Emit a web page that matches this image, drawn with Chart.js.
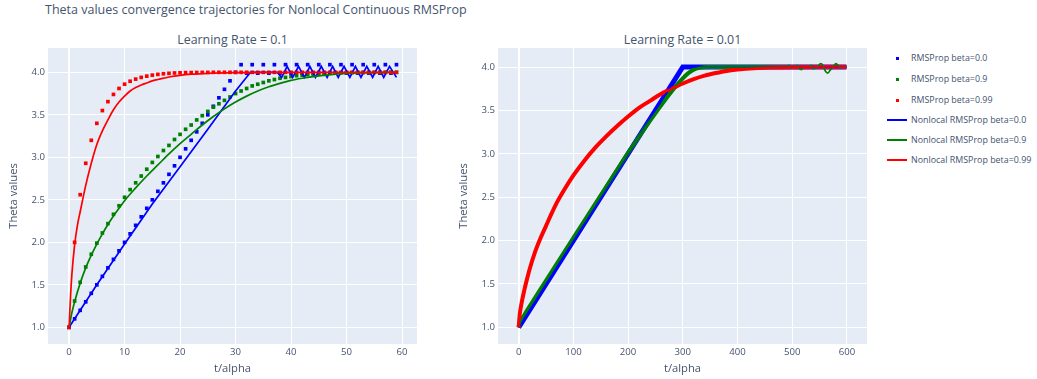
<!DOCTYPE html>
<html>
<head>
<meta charset="utf-8">
<script src="https://cdn.jsdelivr.net/npm/chart.js@4.4.0/dist/chart.umd.min.js"></script>
<style>
    body { margin: 0; background: #fff; font-family: "Open Sans", sans-serif; color: #44546f; }
    #page { position: relative; width: 1037px; height: 379px; overflow: hidden; }
    .title { position: absolute; left: 45px; top: 2px; font-size: 12.5px; line-height: 16px; white-space: nowrap; }
    .subtitle { position: absolute; top: 32px; width: 369px; text-align: center; font-size: 12.4px; line-height: 16px; }
    canvas { position: absolute; top: 0; }
    #legend { position: absolute; left: 880px; top: 0; font-size: 8.9px; }
    .item { position: absolute; left: 0; height: 14px; line-height: 14px; white-space: nowrap; }
    .sample { position: absolute; left: 7px; top: 6px; width: 20px; height: 2px; }
    .dot { position: absolute; left: 16px; top: 5.5px; width: 3px; height: 3px; }
    .label { position: absolute; left: 31px; top: 0; }
</style>
</head>
<body>
<div id="page">
    <div class="title">Theta values convergence trajectories for Nonlocal Continuous RMSProp</div>
    <div class="subtitle" style="left:48px">Learning Rate = 0.1</div>
    <div class="subtitle" style="left:498px">Learning Rate = 0.01</div>
    <canvas id="chart-lr01" width="430" height="379" style="left:0"></canvas>
    <canvas id="chart-lr001" width="430" height="379" style="left:450px"></canvas>
    <div id="legend"></div>
</div>
<script>
// ---- Learning rate 0.1 : RMSProp iterates (one per step) ----
const stepsLr01 = Array.from({ length: 60 }, (_, i) => i);

const rmsBeta0Lr01 = [
    1.0, 1.1, 1.2, 1.3, 1.4, 1.5, 1.6, 1.7, 1.8, 1.9,
    2.0, 2.1, 2.2, 2.3, 2.4, 2.5, 2.6, 2.7, 2.8, 2.9,
    3.0, 3.1, 3.2, 3.3, 3.4, 3.5, 3.6, 3.7, 3.8, 3.9,
    4.0, 4.09, 3.99, 4.09, 3.99, 4.09, 3.99, 4.09, 3.99, 4.09,
    3.99, 4.09, 3.99, 4.09, 3.99, 4.09, 3.99, 4.09, 3.99, 4.09,
    3.99, 4.09, 3.99, 4.09, 3.99, 4.09, 3.99, 4.09, 3.99, 4.09
];
const rmsBeta09Lr01 = [
    1.00, 1.31, 1.53, 1.71, 1.86, 1.99, 2.11, 2.22, 2.33, 2.43,
    2.53, 2.62, 2.70, 2.78, 2.86, 2.94, 3.01, 3.08, 3.14, 3.21,
    3.27, 3.33, 3.38, 3.44, 3.49, 3.54, 3.59, 3.63, 3.67, 3.71,
    3.75, 3.78, 3.81, 3.84, 3.86, 3.88, 3.90, 3.915, 3.93, 3.94,
    3.95, 3.96, 3.967, 3.973, 3.978, 3.983, 3.987, 3.99, 3.992, 3.994,
    3.995, 3.996, 3.997, 3.998, 3.998, 3.999, 3.999, 4.0, 4.0, 4.0
];
const rmsBeta099Lr01 = [
    1.00, 2.00, 2.56, 2.93, 3.20, 3.40, 3.55, 3.655, 3.74, 3.81,
    3.86, 3.895, 3.92, 3.94, 3.955, 3.967, 3.976, 3.983, 3.988, 3.992,
    3.994, 3.996, 3.997, 3.998, 3.999, 3.999, 4.0, 4.0, 4.0, 4.0,
    4.0, 4.0, 4.0, 4.0, 4.0, 4.0, 4.0, 4.0, 4.0, 4.0,
    4.0, 4.0, 4.0, 4.0, 4.0, 4.0, 4.0, 4.0, 4.0, 4.0,
    4.0, 4.0, 4.0, 4.0, 4.0, 4.0, 4.0, 4.0, 4.0, 4.0
];

// ---- Learning rate 0.1 : nonlocal continuous trajectories ----
const nlTimeBeta0Lr01 = [0, 5, 10, 15, 20, 25, 30, 32.7, 37.5, 38.3,
    39.3, 40.3, 41.35, 42.4, 43.4, 44.4, 45.45, 46.5, 47.5, 48.5,
    49.55, 50.6, 51.6, 52.6, 53.65, 54.7, 55.7, 56.7, 57.75, 59];
const nlBeta0Lr01 = [1.0, 1.5, 1.98, 2.45, 2.89, 3.33, 3.78, 4.0, 4.0, 3.94,
    4.07, 3.94, 4.07, 3.94, 4.07, 3.94, 4.07, 3.94, 4.07, 3.94,
    4.07, 3.94, 4.07, 3.94, 4.07, 3.94, 4.07, 3.94, 4.07, 3.94];

const nlTimeBeta09Lr01 = [0, 0.5, 1, 2, 3, 4, 5, 6, 7, 8, 9, 10, 12, 14, 16, 18, 20, 22, 24, 26,
    28, 30, 32, 34, 36, 38, 40, 42, 44, 46, 48, 50, 54, 59];
const nlBeta09Lr01 = [1.0, 1.17, 1.30, 1.52, 1.70, 1.85, 1.98, 2.10, 2.21, 2.31, 2.40, 2.49, 2.64, 2.78, 2.91, 3.04, 3.16, 3.27, 3.38, 3.48,
    3.57, 3.65, 3.72, 3.78, 3.83, 3.87, 3.905, 3.93, 3.95, 3.965, 3.978, 3.986, 3.995, 4.0];

const nlTimeBeta099Lr01 = [0, 0.25, 0.5, 1, 1.5, 2, 3, 4, 5, 6, 7, 8, 9, 10, 11, 12, 13, 14, 15, 16,
    18, 20, 22, 25, 30, 35, 59];
const nlBeta099Lr01 = [1.0, 1.35, 1.62, 1.97, 2.2, 2.36, 2.67, 2.93, 3.15, 3.31, 3.44, 3.56, 3.65, 3.72, 3.78, 3.82, 3.85, 3.875, 3.90, 3.915,
    3.945, 3.965, 3.978, 3.988, 3.996, 4.0, 4.0];

// ---- Learning rate 0.01 ----
const timeBeta0Lr001 = [0, 300, 599];
const rmsBeta0Lr001 = [1.0, 4.0, 4.0];
const nlBeta0Lr001 = [1.0, 4.0, 4.0];

const timeBeta09Lr001 = [0, 3, 10, 25, 50, 100, 150, 200, 240, 270, 290, 300, 310, 320, 330, 345, 599];
const rmsBeta09Lr001 = [1.0, 1.06, 1.14, 1.29, 1.54, 2.03, 2.52, 3.01, 3.38, 3.64, 3.80, 3.87, 3.93, 3.97, 3.99, 4.0, 4.0];

const nlTimeBeta09Lr001 = [0, 3, 10, 25, 50, 100, 150, 200, 240, 270, 290, 300, 310, 320, 330, 345,
    490, 494, 497, 500, 506, 509, 513, 517, 520, 532, 535, 538, 542, 546,
    552, 556, 560, 565, 570, 575, 580, 584, 588, 592, 599];
const nlBeta09Lr001 = [1.0, 1.06, 1.14, 1.29, 1.54, 2.03, 2.52, 3.01, 3.38, 3.64, 3.80, 3.87, 3.93, 3.97, 3.99, 4.0,
    4.0, 4.02, 3.99, 4.0, 4.0, 4.02, 3.98, 3.97, 4.0, 4.0, 4.02, 3.98, 3.99, 4.0,
    4.04, 4.02, 3.96, 3.93, 3.97, 4.0, 4.04, 4.02, 3.99, 4.0, 4.0];

const timeBeta099Lr001 = [0, 2, 5, 10, 15, 20, 30, 40, 50, 60, 70, 80, 100, 120, 140, 160, 180, 200, 220, 240,
    260, 280, 300, 320, 340, 360, 380, 400, 430, 460, 500, 550, 599];
const rmsBeta099Lr001 = [1.0, 1.15, 1.27, 1.42, 1.55, 1.67, 1.87, 2.03, 2.17, 2.31, 2.44, 2.55, 2.75, 2.92, 3.07, 3.20, 3.32, 3.43, 3.53, 3.61,
    3.69, 3.75, 3.81, 3.86, 3.90, 3.93, 3.955, 3.97, 3.985, 3.993, 3.998, 4.0, 4.0];
const nlBeta099Lr001 = rmsBeta099Lr001.slice();

// ---- axes ----
const xTicksLr01 = [0, 10, 20, 30, 40, 50, 60];
const xTicksLr001 = [0, 100, 200, 300, 400, 500, 600];
const yTicks = [1.0, 1.5, 2.0, 2.5, 3.0, 3.5, 4.0];

const seriesNames = [
    'RMSProp beta=0.0', 'RMSProp beta=0.9', 'RMSProp beta=0.99',
    'Nonlocal RMSProp beta=0.0', 'Nonlocal RMSProp beta=0.9', 'Nonlocal RMSProp beta=0.99'
];
const seriesColors = ['blue', 'green', 'red', 'blue', 'green', 'red'];

const TEXT = '#44546f';
const FONT = '"Open Sans", sans-serif';

/**
 * Fond bleu-gris de la zone de tracé (style plotly)
 */
const plotBg = {
    id: 'plotBg',
    beforeDraw(chart) {
        const { ctx, chartArea: a } = chart;
        ctx.save();
        ctx.fillStyle = '#E5ECF6';
        ctx.fillRect(a.left, a.top, a.right - a.left, a.bottom - a.top);
        ctx.restore();
    }
};

function toPoints(xs, ys) {
    return xs.map((x, i) => ({ x: x, y: ys[i] }));
}

function markerSet(idx, xs, ys) {
    return {
        label: seriesNames[idx],
        data: toPoints(xs, ys),
        showLine: false,
        pointStyle: 'rect',
        pointRadius: 2.6,
        pointBorderWidth: 0,
        pointBackgroundColor: seriesColors[idx],
        order: 6 - idx,
    };
}

function bandSet(idx, xs, ys, smooth, width) {
    // dense markers at lr=0.01 merge into a thick band
    return {
        label: seriesNames[idx],
        data: toPoints(xs, ys),
        borderColor: seriesColors[idx],
        borderWidth: width,
        pointRadius: 0,
        tension: 0,
        cubicInterpolationMode: smooth ? 'monotone' : 'default',
        order: 6 - idx,
    };
}

function lineSet(idx, xs, ys, smooth) {
    return {
        label: seriesNames[idx],
        data: toPoints(xs, ys),
        borderColor: seriesColors[idx],
        borderWidth: 1.7,
        pointRadius: 0,
        tension: 0,
        cubicInterpolationMode: smooth ? 'monotone' : 'default',
        order: 6 - idx,
    };
}

function makeChart(id, datasets, xMin, xMax, xTicks, yMin, yMax) {
    const tickFont = { family: FONT, size: 9.6 };
    const titleFont = { family: FONT, size: 11.2 };
    return new Chart(document.getElementById(id), {
        type: 'line',
        data: { datasets: datasets },
        options: {
            responsive: false,
            animation: false,
            layout: { padding: { top: 48, right: 13, left: 0, bottom: 0 } },
            plugins: { legend: { display: false }, tooltip: { enabled: false } },
            scales: {
                x: {
                    type: 'linear',
                    min: xMin,
                    max: xMax,
                    afterBuildTicks: (s) => { s.ticks = xTicks.map(v => ({ value: v })); },
                    afterFit: (s) => { s.height = 35; },
                    grid: {
                        color: '#ffffff',
                        lineWidth: (c) => (c.tick && c.tick.value === 0 ? 2 : 1),
                        drawTicks: false,
                    },
                    border: { display: false },
                    ticks: { padding: 3, color: TEXT, font: tickFont, maxRotation: 0, callback: (v) => v },
                    title: { display: true, text: 't/alpha', color: TEXT, font: titleFont, padding: { top: 0, bottom: 3 } },
                },
                y: {
                    min: yMin,
                    max: yMax,
                    afterBuildTicks: (s) => { s.ticks = yTicks.map(v => ({ value: v })); },
                    afterFit: (s) => { s.width = 48; },
                    grid: { color: '#ffffff', lineWidth: 1, drawTicks: false },
                    border: { display: false },
                    ticks: { padding: 3, color: TEXT, font: tickFont, callback: (v) => v.toFixed(1) },
                    title: { display: true, text: 'Theta values', color: TEXT, font: titleFont, padding: { top: 7, bottom: 0 } },
                },
            },
        },
        plugins: [plotBg],
    });
}

function buildLegend() {
    const box = document.getElementById('legend');
    const centers = [58, 79, 100, 120, 140, 160];
    seriesNames.forEach((name, i) => {
        const row = document.createElement('div');
        row.className = 'item';
        row.style.top = (centers[i] - 7) + 'px';
        const mark = document.createElement('span');
        mark.className = i < 3 ? 'dot' : 'sample';
        mark.style.background = seriesColors[i];
        const text = document.createElement('span');
        text.className = 'label';
        text.textContent = name;
        row.appendChild(mark);
        row.appendChild(text);
        box.appendChild(row);
    });
}

makeChart('chart-lr01', [
    markerSet(0, stepsLr01, rmsBeta0Lr01),
    markerSet(1, stepsLr01, rmsBeta09Lr01),
    markerSet(2, stepsLr01, rmsBeta099Lr01),
    lineSet(3, nlTimeBeta0Lr01, nlBeta0Lr01, false),
    lineSet(4, nlTimeBeta09Lr01, nlBeta09Lr01, true),
    lineSet(5, nlTimeBeta099Lr01, nlBeta099Lr01, true),
], -3.8, 62.7, xTicksLr01, 0.804, 4.286);

makeChart('chart-lr001', [
    bandSet(0, timeBeta0Lr001, rmsBeta0Lr001, false, 5),
    bandSet(1, timeBeta09Lr001, rmsBeta09Lr001, true, 4),
    bandSet(2, timeBeta099Lr001, rmsBeta099Lr001, true, 4),
    lineSet(3, timeBeta0Lr001, nlBeta0Lr001, false),
    lineSet(4, nlTimeBeta09Lr001, nlBeta09Lr001, true),
    lineSet(5, timeBeta099Lr001, nlBeta099Lr001, true),
], -37.8, 636.7, xTicksLr001, 0.808, 4.219);

buildLegend();
</script>
</body>
</html>
